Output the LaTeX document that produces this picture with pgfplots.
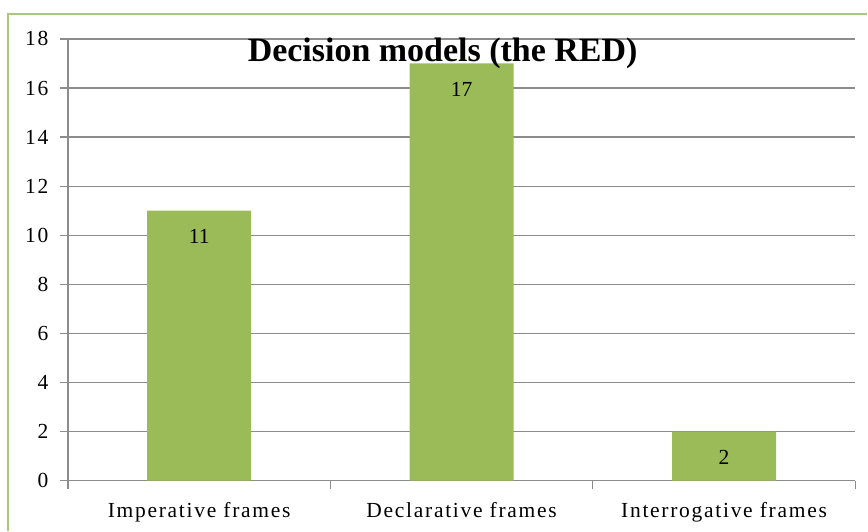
\documentclass[border=0pt]{standalone}
\usepackage{pgfplots}
\pgfplotsset{compat=1.18}
\usepackage{fontspec}
\setmainfont{Liberation Serif}
\newfontfamily\lblfont[LetterSpace=8]{Liberation Serif}
\definecolor{barg}{HTML}{9BBB59}
\definecolor{frameg}{HTML}{A9C77E}
\definecolor{axg}{HTML}{8C8C8C}
\begin{document}
\begin{tikzpicture}[x=1bp,y=1bp]
\path (0,0) rectangle (868,531);
\draw[frameg, line width=1.5bp] (8,0) -- (8,517) -- (868,517);
\begin{axis}[
  at={(68bp,50bp)}, anchor=south west,
  scale only axis, width=788bp, height=442bp,
  xmin=-0.5, xmax=2.5, ymin=0, ymax=18,
  ytick={0,2,...,18},
  xtick={-0.5,0.5,1.5,2.5}, xticklabels={},
  extra x ticks={0,1,2},
  extra x tick labels={Imperative frames,Declarative frames,Interrogative frames},
  extra x tick style={major tick length=0pt, grid=none, xticklabel style={yshift=-18bp}},
  axis x line=bottom, axis y line=left,
  axis line style={axg, line width=1.3bp, -},
  ymajorgrids, grid style={axg, line width=1.3bp},
  major tick style={axg, line width=1.3bp},
  tick align=outside, major tick length=8bp,
  tick pos=left,
  /pgf/number format/assume math mode=true,
  tick label style={font=\fontsize{21.5bp}{24bp}\selectfont\lblfont, text=black},
  yticklabel style={xshift=-8bp},
  ybar, bar width=104bp,
  nodes near coords,
  every node near coord/.append style={anchor=center, yshift=-26bp, font=\fontsize{21.5bp}{24bp}\selectfont, text=black},
  clip=false,
]
\addplot[fill=barg, draw=none] coordinates {(0,11) (1,17) (2,2)};
\end{axis}
\node[anchor=base, font=\fontsize{34bp}{38bp}\selectfont\bfseries] at (443,469) {Decision models (the RED)};
\end{tikzpicture}
\end{document}
